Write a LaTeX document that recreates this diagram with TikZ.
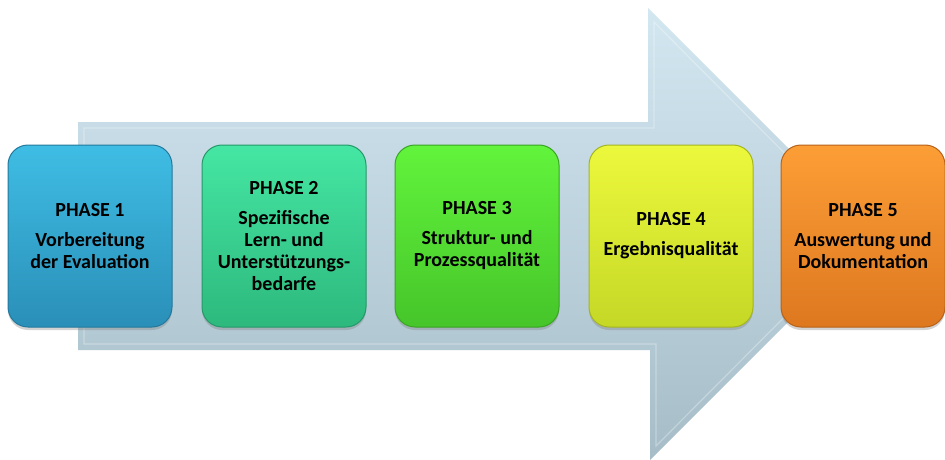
\documentclass[tikz,border=0pt]{standalone}
\usepackage{fontspec}
\setmainfont{Carlito}
\usetikzlibrary{shadows}
\definecolor{arrtop}{HTML}{D3E7F1}
\definecolor{arrbot}{HTML}{A6BDC8}
\definecolor{c1t}{HTML}{3FBDE4}\definecolor{c1b}{HTML}{2A8FB8}\definecolor{c1d}{HTML}{23799C}
\definecolor{c2t}{HTML}{45E6A3}\definecolor{c2b}{HTML}{2DB97D}\definecolor{c2d}{HTML}{25996A}
\definecolor{c3t}{HTML}{62F43C}\definecolor{c3b}{HTML}{46C52A}\definecolor{c3d}{HTML}{3AA424}
\definecolor{c4t}{HTML}{ECF83C}\definecolor{c4b}{HTML}{C5D826}\definecolor{c4d}{HTML}{A5B520}
\definecolor{c5t}{HTML}{FC9E36}\definecolor{c5b}{HTML}{DE7820}\definecolor{c5d}{HTML}{B8621A}
\tikzset{
  phasebox/.style={rounded corners=20pt, minimum width=164pt, minimum height=182pt,
    inner sep=0pt, align=center, font=\bfseries\fontsize{20}{22}\selectfont, text=black,
    line width=1pt,
    drop shadow={shadow xshift=0pt, shadow yshift=-3pt, opacity=0.35}},
}
\begin{document}
\begin{tikzpicture}[x=1pt,y=-1pt]
\useasboundingbox (0,0) rectangle (945,460);
% big arrow
\shade[top color=arrtop, bottom color=arrbot]
  (78,122) -- (648,122) -- (648,8) -- (875,235) -- (650,460) -- (650,350) -- (78,350) -- cycle;
\draw[white, opacity=0.3, line width=1.2pt]
  (84,128) -- (654,128) -- (654,22) -- (866,235) -- (656,446) -- (656,344) -- (84,344) -- cycle;
% boxes
\node[phasebox, top color=c1t, bottom color=c1b, draw=c1d] (p1) at (90,236)
  {PHASE 1\\[8pt]Vorbereitung\\der Evaluation};
\node[phasebox, top color=c2t, bottom color=c2b, draw=c2d] (p2) at (284,236)
  {PHASE 2\\[8pt]Spezifische\\Lern- und\\Unterstützungs-\\bedarfe};
\node[phasebox, top color=c3t, bottom color=c3b, draw=c3d] (p3) at (477,236)
  {PHASE 3\\[8pt]Struktur- und\\Prozessqualität};
\node[phasebox, top color=c4t, bottom color=c4b, draw=c4d] (p4) at (671,236)
  {PHASE 4\\[8pt]Ergebnisqualität};
\node[phasebox, top color=c5t, bottom color=c5b, draw=c5d] (p5) at (863,236)
  {PHASE 5\\[8pt]Auswertung und\\Dokumentation};
\end{tikzpicture}
\end{document}
